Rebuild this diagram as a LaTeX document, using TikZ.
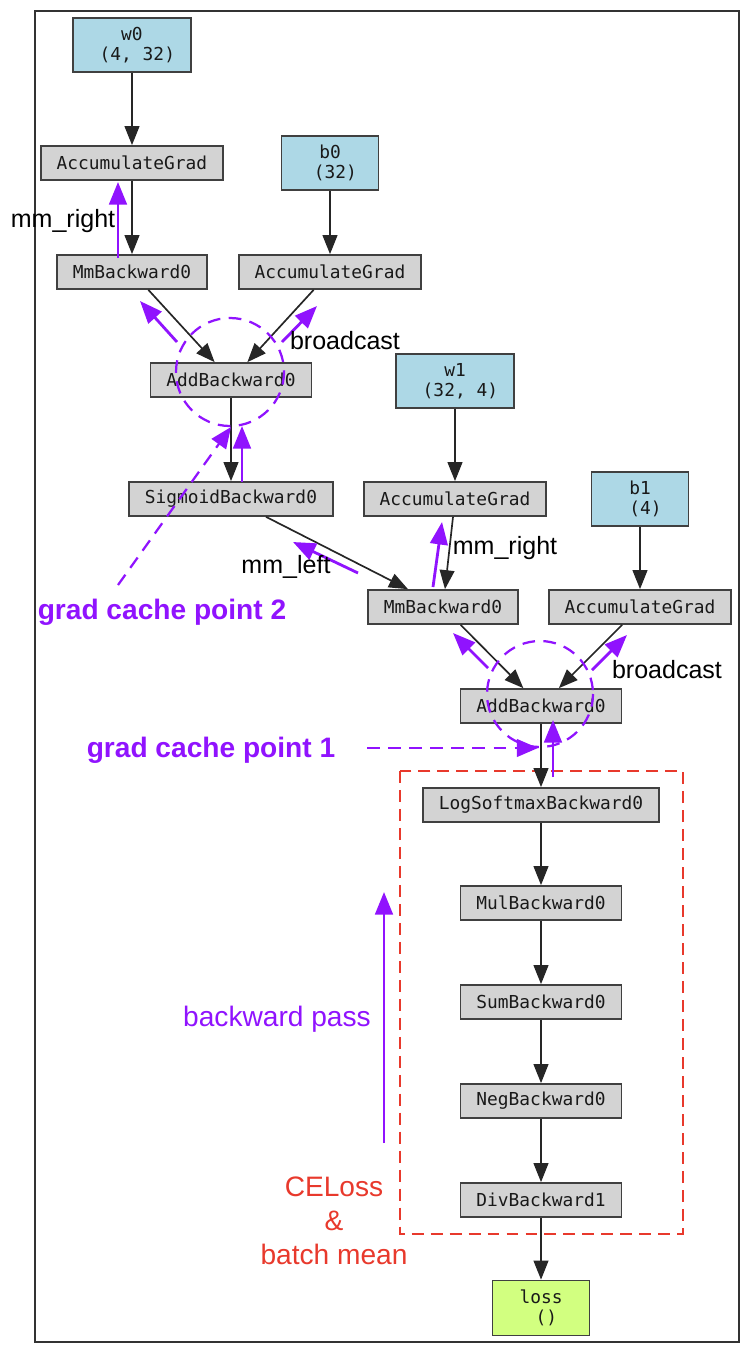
\documentclass[tikz,border=0pt]{standalone}
\usepackage{fontspec}
\setmainfont{Liberation Sans}
\setmonofont{DejaVu Sans Mono}
\usetikzlibrary{arrows.meta}

\definecolor{leafblue}{HTML}{ADD8E6}
\definecolor{fngray}{HTML}{D3D3D3}
\definecolor{rootgreen}{HTML}{D2FF80}
\definecolor{annot}{HTML}{9013FE}
\definecolor{lossred}{HTML}{E8392C}

\newcommand\nodefont{\fontsize{12.7}{14.5}\selectfont\ttfamily}

\tikzset{
  fn/.style={draw=black!75, line width=1.2pt, fill=fngray, font=\nodefont,
    text=black!90, inner xsep=0.4cm, minimum height=0.85cm},
  leaf/.style={fn, fill=leafblue, align=center, minimum width=2.425cm, minimum height=1.35cm},
  root/.style={leaf, fill=rootgreen, minimum height=1.375cm},
  fwd/.style={-{Triangle[length=13.5pt,width=10.5pt]}, line width=1.2pt, black!85},
  bwd/.style={-{Triangle[length=16pt,width=12.5pt]}, line width=2pt, annot},
  cache/.style={annot, line width=1.6pt, dash pattern=on 9pt off 6pt},
  lbl/.style={font=\fontsize{17.8}{21}\selectfont},
  big/.style={font=\fontsize{20}{24.2}\selectfont},
  bigbold/.style={font=\fontsize{20}{24.2}\selectfont\bfseries, annot},
}

\begin{document}
\begin{tikzpicture}[x=0.025cm, y=-0.025cm]
  \useasboundingbox (0,0) rectangle (752,1355);
  \draw[black!80, line width=1pt] (35,11) rectangle (739,1342);

  % loss part
  \draw[lossred, line width=1.6pt, dash pattern=on 8.5pt off 5pt] (400,771) rectangle (683,1234);

  % layer 0
  \node[leaf] (w0) at (132,45) {w0\\\mbox{ }(4, 32)};
  \node[fn] (acc0) at (132,163) {AccumulateGrad};
  \node[leaf] (b0) at (330,163) {b0\\\mbox{ }(32)};
  \node[fn] (mm0) at (132,272) {MmBackward0};
  \node[fn] (acc1) at (330,272) {AccumulateGrad};
  \node[fn] (add0) at (231,380) {AddBackward0};
  \node[fn] (sig) at (231,499) {SigmoidBackward0};

  % layer 1
  \node[leaf] (w1) at (455,381) {w1\\\mbox{ }(32, 4)};
  \node[fn] (acc2) at (455,499) {AccumulateGrad};
  \node[leaf] (b1) at (640,499) {b1\\\mbox{ }(4)};
  \node[fn] (mm1) at (443,607) {MmBackward0};
  \node[fn] (acc3) at (640,607) {AccumulateGrad};
  \node[fn] (add1) at (541,706) {AddBackward0};

  % loss
  \node[fn] (lsm) at (541,805) {LogSoftmaxBackward0};
  \node[fn] (mul) at (541,903) {MulBackward0};
  \node[fn] (sum) at (541,1002) {SumBackward0};
  \node[fn] (neg) at (541,1101) {NegBackward0};
  \node[fn] (div) at (541,1200) {DivBackward1};
  \node[root] (loss) at (541,1308) {loss\\\mbox{ }()};

  \draw[fwd] (w0) -- (acc0);
  \draw[fwd] (acc0) -- (mm0);
  \draw[fwd] (b0) -- (acc1);
  \draw[fwd] (mm0) -- (add0);
  \draw[fwd] (acc1) -- (add0);
  \draw[fwd] (add0) -- (sig);
  \draw[fwd] (w1) -- (acc2);
  \draw[fwd] (sig) -- (mm1);
  \draw[fwd] (acc2) -- (mm1);
  \draw[fwd] (b1) -- (acc3);
  \draw[fwd] (mm1) -- (add1);
  \draw[fwd] (acc3) -- (add1);
  \draw[fwd] (add1) -- (lsm);
  \draw[fwd] (lsm) -- (mul);
  \draw[fwd] (mul) -- (sum);
  \draw[fwd] (sum) -- (neg);
  \draw[fwd] (neg) -- (div);
  \draw[fwd] (div) -- (loss);

  % gradient flow
  \coordinate (g0a) at (118,258);  \coordinate (g0b) at (118,182);
  \coordinate (g1a) at (177,342);  \coordinate (g1b) at (140,301);
  \coordinate (g2a) at (282,342);  \coordinate (g2b) at (317,306);
  \coordinate (g3a) at (242,482);  \coordinate (g3b) at (242,426);
  \coordinate (g4a) at (358,573);  \coordinate (g4b) at (293,542);
  \coordinate (g5a) at (433,587);  \coordinate (g5b) at (442,522);
  \coordinate (g6a) at (488,668);  \coordinate (g6b) at (453,633);
  \coordinate (g7a) at (592,670);  \coordinate (g7b) at (627,635);
  \coordinate (g8a) at (553,777);  \coordinate (g8b) at (553,720);
  \coordinate (bpa) at (384,1143); \coordinate (bpb) at (384,892);
  \foreach \g in {g0,g1,g2,g3,g4,g5,g6,g7,g8,bp}
    \draw[bwd] (\g a) -- (\g b);

  % cache points
  \draw[cache] (230,372) circle[radius=54];
  \draw[cache] (540,694) circle[radius=53];
  \coordinate (c2a) at (118,585);  \coordinate (c2b) at (231,427);
  \coordinate (c1a) at (367,748);  \coordinate (c1b) at (538,748);
  \draw[cache, -{Triangle[length=15pt,width=12.5pt]}] (c2a) -- (c2b);
  \draw[cache, -{Triangle[length=15pt,width=12.5pt]}] (c1a) -- (c1b);

  \node[lbl] (mmr0) at (63,221) {mm\_right};
  \node[lbl] (bc0) at (345,341) {broadcast};
  \node[lbl] (mml) at (286,567) {mm\_left};
  \node[lbl] (mmr1) at (505,548) {mm\_right};
  \node[lbl] (bc1) at (667,670) {broadcast};

  \node[bigbold] (gcp2) at (162,612) {grad cache point 2};
  \node[bigbold] (gcp1) at (211,750) {grad cache point 1};
  \node[big, annot] (bwp) at (277,1019) {backward pass};
  \node[big, lossred, align=center] (ce) at (334,1221) {CELoss\\\&\\batch mean};
\end{tikzpicture}
\end{document}
